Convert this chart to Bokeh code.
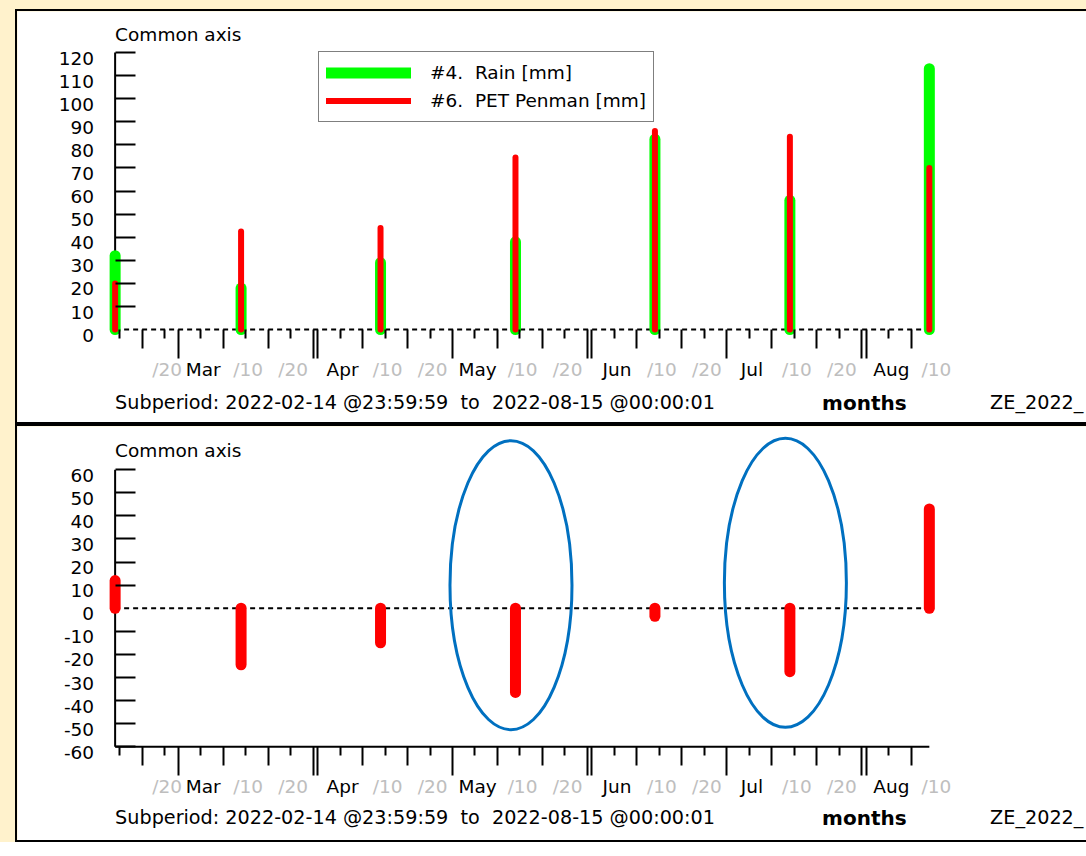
import pandas as pd
from bokeh.plotting import figure
from bokeh.layouts import column
from bokeh.models import (ColumnDataSource, FixedTicker, Label, Legend, LegendItem,
                          LinearAxis, Range1d)
from bokeh.core.properties import value
from bokeh.embed import file_html
from bokeh.resources import INLINE

# ---------------- data ----------------
bar_dates = ["2022-02-15", "2022-03-15", "2022-04-15", "2022-05-15",
             "2022-06-15", "2022-07-15", "2022-08-15"]
rain_mm = [32, 18, 29, 38, 82.5, 56, 113]
pet_mm = [20, 42.5, 44, 74.5, 86, 83.5, 70]
balance_mm = [12, -24.5, -15, -36.5, -3.5, -27.5, 43]

tick_months = ["2022-02-01", "2022-03-01", "2022-04-01", "2022-05-01",
               "2022-06-01", "2022-07-01", "2022-08-01"]
month_labels = ["Feb", "Mar", "Apr", "May", "Jun", "Jul", "Aug"]
long_tick_days = [1, 31]
mid_tick_days = [11, 21]
mid_tick_labels = ["/10", "/20"]
short_tick_days = [6, 16, 26]

top_y_ticks = [0, 10, 20, 30, 40, 50, 60, 70, 80, 90, 100, 110, 120]
bottom_y_ticks = [-60, -50, -40, -30, -20, -10, 0, 10, 20, 30, 40, 50, 60]

highlight_dates = ["2022-05-14", "2022-07-14"]
highlight_levels = [10, 11]

series_labels = ["#4.  Rain [mm]", "#6.  PET Penman [mm]"]
axis_title = "Common axis"
period_start = "2022-02-14 23:59:59"
period_end = "2022-08-15 00:00:01"
subperiod_text = "Subperiod: 2022-02-14 @23:59:59  to  2022-08-15 @00:00:01"
unit_text = "months"
file_text = "ZE_2022_"

# ---------------- styles / layout ----------------
FONT = "DejaVu Sans"
FS = "18.5px"
BG = "#FFF2CC"
GREEN = "#00FF00"
RED = "#FF0000"
BLUE = "#0070C0"
GREY = "#BEBEBE"
PX_DAY = 4.49
MAR1_PX = 177.3
PX_UNIT = 2.286
PANEL_LEFT = 15
BORDER = 2
CANVAS_LEFT = PANEL_LEFT + BORDER
CANVAS_W = 1086 - CANVAS_LEFT
DAY_MS = 86400000.0
LABEL_SHIFT = 25.0 / PX_DAY * DAY_MS
YLABEL_SHIFT = 5.5 / PX_UNIT


def ms(s):
    return pd.Timestamp(s).value / 1e6


def nb(s):
    return s.replace("  ", "\u00a0 ")


t_start, t_end = ms(period_start), ms(period_end)
mar1 = ms("2022-03-01")
x_lo = mar1 + (CANVAS_LEFT - MAR1_PX) / PX_DAY * DAY_MS
x_hi = mar1 + (1086 - MAR1_PX) / PX_DAY * DAY_MS

# ---------------- x ticks ----------------
long_t, mid_t, short_t = [], [], []
month_pos, month_txt, dec_pos, dec_txt = [], [], [], []
ps, pe = pd.Timestamp(period_start), pd.Timestamp(period_end)
for m_str, name in zip(tick_months, month_labels):
    m = pd.Timestamp(m_str)
    for d in long_tick_days + mid_tick_days + short_tick_days:
        if d > m.days_in_month:
            continue
        t = m + pd.Timedelta(days=d - 1)
        if not (ps <= t <= pe):
            continue
        v = t.value / 1e6
        if d in long_tick_days:
            long_t.append(v)
        elif d in mid_tick_days:
            mid_t.append(v)
            dec_pos.append(v + LABEL_SHIFT)
            dec_txt.append(mid_tick_labels[mid_tick_days.index(d)])
        else:
            short_t.append(v)
        if d == 1:
            month_pos.append(v + LABEL_SHIFT)
            month_txt.append(name)


def add_axis(p, side, ticks, fixed, tick_in=0, tick_out=0, labels=None,
             color="black", standoff=0):
    ax = LinearAxis(ticker=FixedTicker(ticks=ticks, minor_ticks=[]),
                    fixed_location=fixed, axis_line_color=None,
                    major_tick_in=tick_in, major_tick_out=tick_out,
                    major_tick_line_color="black" if (tick_in or tick_out) else None,
                    major_tick_line_width=2, minor_tick_line_color=None,
                    major_label_standoff=standoff,
                    major_label_text_font=FONT, major_label_text_font_size=FS,
                    major_label_text_color=color if labels else None)
    if labels:
        ax.major_label_overrides = dict(zip(ticks, labels))
    p.add_layout(ax, side)


def add_text(p, text, x, y, dx, dy, bold=False, size=FS):
    p.add_layout(Label(x=x, y=y, x_offset=dx, y_offset=dy, text=nb(text),
                       text_font=FONT, text_font_size=size,
                       text_font_style="bold" if bold else "normal",
                       text_color="black", text_align="left",
                       text_baseline="alphabetic"))


def make_panel(canvas_top, canvas_bottom, zero_px):
    p = figure(frame_width=CANVAS_W, frame_height=canvas_bottom - canvas_top,
               min_border=0, min_border_left=0, min_border_right=0,
               min_border_top=0, min_border_bottom=0,
               x_range=Range1d(x_lo, x_hi),
               y_range=Range1d((zero_px - canvas_bottom) / PX_UNIT,
                               (zero_px - canvas_top) / PX_UNIT),
               x_axis_type=None, y_axis_type=None, toolbar_location=None,
               output_backend="svg", background_fill_color="white",
               border_fill_color="white", outline_line_color=None)
    p.styles = {"border-left": "2px solid black", "border-top": "2px solid black",
                "border-bottom": "2px solid black"}
    return p


def decorate(p, base, y_ticks, title_dy, sub_dy):
    add_axis(p, "below", long_t, base, tick_out=29)
    add_axis(p, "below", mid_t, base, tick_out=19)
    add_axis(p, "below", short_t, base, tick_out=9)
    add_axis(p, "below", month_pos, base, labels=month_txt, standoff=29)
    add_axis(p, "below", dec_pos, base, labels=dec_txt, color=GREY, standoff=29)
    add_axis(p, "left", [v for v in y_ticks if v != 0], t_start, tick_in=20)
    add_axis(p, "left", [v - YLABEL_SHIFT for v in y_ticks], t_start,
             labels=[str(v) for v in y_ticks], standoff=21)
    add_text(p, axis_title, t_start, max(y_ticks), 0, title_dy)
    add_text(p, subperiod_text, t_start, base, 0, sub_dy, size="19.2px")
    add_text(p, unit_text, t_start, base, 707, sub_dy, bold=True, size="20px")
    add_text(p, file_text, t_start, base, 875, sub_dy, size="19.2px")


src = ColumnDataSource(dict(date=pd.to_datetime(bar_dates), rain=rain_mm, pet=pet_mm,
                            bal=balance_mm, zero=[0] * len(bar_dates)))
hl = ColumnDataSource(dict(date=pd.to_datetime(highlight_dates), lvl=highlight_levels))

# ---------------- top panel ----------------
p1 = make_panel(11, 422, 326)
p1.margin = (9, 0, 0, 15)
p1.segment(x0=[t_start], y0=[0], x1=[t_end], y1=[0], line_color="black",
           line_width=2, line_dash="5 4")
p1.segment(x0=[t_start], y0=[0], x1=[t_start], y1=[max(top_y_ticks)],
           line_color="black", line_width=2)
g = p1.segment(x0="date", y0="zero", x1="date", y1="rain", source=src,
               line_color=GREEN, line_width=11, line_cap="round")
r = p1.segment(x0="date", y0="zero", x1="date", y1="pet", source=src,
               line_color=RED, line_width=6, line_cap="round")
decorate(p1, 0, top_y_ticks, 18, -73)
legend = Legend(items=[LegendItem(label=value(nb(series_labels[0])), renderers=[g]),
                       LegendItem(label=value(nb(series_labels[1])), renderers=[r])],
                location=(318 - CANVAS_LEFT, 422 - 118), orientation="vertical",
                border_line_color="black", border_line_width=1,
                background_fill_color="white", background_fill_alpha=1,
                label_text_font=FONT, label_text_font_size=FS,
                label_text_color="black",
                glyph_width=85, glyph_height=27, label_height=27,
                label_standoff=19, padding=7, spacing=1, margin=0)
p1.add_layout(legend)

# ---------------- bottom panel ----------------
p2 = make_panel(426, 840, 606)
p2.margin = (0, 0, 0, 15)
p2.segment(x0=[t_start], y0=[0], x1=[t_end], y1=[0], line_color="black",
           line_width=2, line_dash="5 4")
p2.segment(x0=[t_start], y0=[min(bottom_y_ticks)], x1=[t_start],
           y1=[max(bottom_y_ticks)], line_color="black", line_width=2)
p2.segment(x0=[t_start], y0=[min(bottom_y_ticks)], x1=[t_end],
           y1=[min(bottom_y_ticks)], line_color="black", line_width=2)
p2.segment(x0="date", y0="zero", x1="date", y1="bal", source=src,
           line_color=RED, line_width=11, line_cap="round")
p2.ellipse(x="date", y="lvl", width=122, height=289, width_units="screen",
           height_units="screen", source=hl, fill_color=None,
           line_color=BLUE, line_width=3)
decorate(p2, min(bottom_y_ticks), bottom_y_ticks, 19.5, -71)

root = column(p1, p2, styles={"background-color": BG})
open("out.html", "w").write(file_html(root, INLINE))
